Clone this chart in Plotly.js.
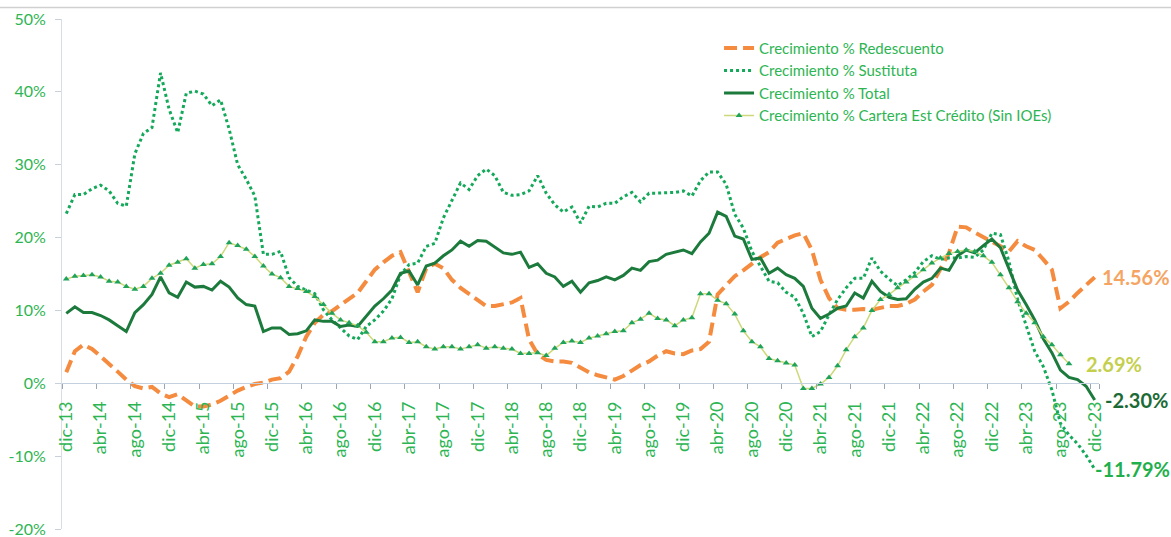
<!DOCTYPE html>
<html><head><meta charset="utf-8">
<script src="https://cdn.plot.ly/plotly-3.0.1.min.js"></script>
<style>html,body{margin:0;padding:0;background:#fff}#chart{width:1171px;height:537px}</style>
</head><body><div id="chart"></div>
<script>
const monthNames = ['ene','feb','mar','abr','may','jun','jul','ago','sep','oct','nov','dic'];
const categories = [];
for (let i = 0; i < 121; i++) {
  const k = 11 + i;
  categories.push(monthNames[k % 12] + '-' + (13 + Math.floor(k / 12)));
}
const tickLabels = ['dic-13','abr-14','ago-14','dic-14','abr-15','ago-15','dic-15','abr-16','ago-16','dic-16',
  'abr-17','ago-17','dic-17','abr-18','ago-18','dic-18','abr-19','ago-19','dic-19','abr-20','ago-20','dic-20',
  'abr-21','ago-21','dic-21','abr-22','ago-22','dic-22','abr-23','ago-23','dic-23'];
const yTicks = [-20,-10,0,10,20,30,40,50];

const redescuento = [
  1.5, 4.4, 5.3, 4.7, 3.7, 2.7, 1.6, 0.5, -0.4,
  -0.7, -0.5, -1.4, -1.9, -1.5, -2.3, -3.2, -3.2, -2.9, -2.4, -1.7, -1.0, -0.5, -0.1, 0.1,
  0.5, 0.7, 1.6, 3.7, 6.4, 8.3, 9.4, 9.9, 10.8, 11.6, 12.4, 13.9, 15.6, 16.6, 17.5, 18.0, 15.4, 12.5, 15.8, 16.4, 15.8, 14.2, 13.1, 12.3, 11.4,
  10.6, 10.6, 10.9, 11.1, 11.7, 6.0, 4.0, 3.2, 3.0, 3.0, 2.8, 2.1, 1.5, 1.1, 0.8, 0.5, 1.0, 1.8, 2.5, 3.0, 3.8, 4.4, 4.1, 4.0,
  4.5, 4.7, 5.7, 12.2, 13.4, 14.7, 15.5, 16.4, 17.3, 18.0, 19.3, 19.8, 20.3, 20.6, 18.3, 14.2, 11.7, 10.3, 10.1, 10.1, 10.2, 10.1, 10.4, 10.6,
  10.6, 10.9, 11.5, 12.6, 13.5, 15.6, 17.9, 21.5, 21.4, 20.7, 20.1, 19.5, 18.8, 18.1, 19.5, 18.8, 18.3, 17.0, 15.6, 10.3, 11.2, 12.4, 13.5, 14.56
];
const sustituta = [
  23.3, 25.9, 25.9, 26.7, 27.2, 26.4, 24.7, 24.3, 31.5, 34.3, 35.1, 42.6, 37.6, 34.4, 39.8, 40.1, 39.7, 38.1, 38.9, 34.9, 30.0, 28.0, 25.7, 17.7, 17.7,
  18.1, 14.5, 13.3, 12.8, 12.3, 10.1, 8.7, 7.6, 6.5, 6.0, 7.8, 8.7, 9.9, 11.6, 14.9, 16.3, 16.5, 18.8, 19.2, 22.7, 25.0, 27.5, 26.6, 28.5,
  29.4, 28.5, 26.2, 25.8, 25.9, 26.4, 28.5, 26.1, 24.5, 23.5, 24.2, 22.0, 24.3, 24.2, 24.7, 24.7, 25.6, 26.2, 24.9, 26.1, 26.1, 26.1, 26.2, 26.4,
  25.7, 27.8, 29.0, 29.0, 27.3, 23.2, 21.3, 18.1, 16.1, 14.0, 13.8, 12.5, 11.8, 9.6, 6.4, 7.1, 9.4, 11.5, 13.1, 14.4, 14.4, 17.2, 15.4, 14.3,
  13.4, 14.2, 15.2, 16.7, 17.5, 17.0, 17.2, 17.2, 17.4, 17.3, 18.3, 20.6, 20.4, 16.7, 11.5, 7.8, 4.4, 2.3, -0.9, -5.5, -7.1, -8.3, -9.9, -11.79
];
const total = [
  9.6, 10.5, 9.7, 9.7, 9.3, 8.7, 7.9, 7.1, 9.7, 10.8, 12.2, 14.6, 12.4, 11.8, 13.9, 13.2, 13.3, 12.8, 14.0, 13.2, 11.7, 10.8, 10.6, 7.1, 7.6,
  7.6, 6.7, 6.8, 7.2, 8.7, 8.5, 8.5, 7.8, 8.0, 7.8, 9.2, 10.6, 11.6, 12.8, 15.1, 15.4, 13.5, 16.1, 16.5, 17.5, 18.3, 19.5, 18.8, 19.6,
  19.5, 18.7, 17.9, 17.7, 18.0, 15.9, 16.4, 15.1, 14.6, 13.3, 14.0, 12.5, 13.8, 14.1, 14.6, 14.2, 14.8, 15.8, 15.5, 16.7, 16.9, 17.7, 18.0, 18.3,
  17.8, 19.4, 20.6, 23.5, 22.9, 20.2, 19.8, 17.0, 17.2, 15.1, 15.8, 14.9, 14.4, 13.3, 10.3, 8.9, 9.5, 10.3, 10.6, 12.4, 11.7, 14.0, 12.6, 11.8,
  11.5, 11.6, 12.9, 13.9, 14.4, 15.8, 15.5, 17.5, 18.3, 17.9, 18.9, 19.8, 18.6, 15.6, 12.8, 10.8, 8.7, 6.1, 4.2, 1.8, 0.8, 0.5, -0.4, -2.30
];
const cartera = [
  14.3, 14.7, 14.8, 14.9, 14.6, 14.0, 13.9, 13.3, 12.9, 13.3, 14.4, 15.1, 16.2, 16.6, 17.1, 15.8, 16.3, 16.4, 17.4, 19.3, 18.9, 18.4, 17.4, 16.1, 15.0,
  14.5, 13.3, 13.0, 12.6, 11.9, 10.8, 9.6, 8.7, 8.3, 7.9, 7.0, 5.7, 5.7, 6.2, 6.3, 5.6, 5.7, 5.0, 4.7, 5.0, 5.0, 4.7, 5.0, 5.3,
  4.8, 5.0, 4.8, 4.7, 4.1, 4.1, 4.2, 3.8, 4.8, 5.6, 5.8, 5.6, 6.2, 6.5, 6.8, 7.1, 7.2, 8.3, 8.8, 9.6, 8.9, 8.7, 7.9, 8.7,
  9.0, 12.3, 12.3, 11.4, 10.9, 9.5, 7.2, 5.7, 5.0, 3.4, 3.1, 2.8, 2.5, -0.7, -0.7, -0.1, 0.8, 2.4, 4.6, 6.4, 7.6, 10.0, 11.5,
  12.2, 13.1, 13.9, 14.7, 15.6, 16.5, 17.2, 17.8, 18.1, 18.3, 18.1, 17.5, 16.6, 14.9, 13.1, 11.2, 9.6, 8.3, 6.4, 5.3, 3.9, 2.69
];
const seriesNames = ['Crecimiento % Redescuento','Crecimiento % Sustituta','Crecimiento % Total','Crecimiento % Cartera Est Crédito (Sin IOEs)'];
const endLabels = ['14.56%','-11.79%','-2.30%','2.69%'];

const green = '#2db553';
const FONT = 'Lato, "Open Sans", sans-serif';

const traces = [
  {x: categories.slice(0, redescuento.length), y: redescuento, name: seriesNames[0], type: 'scatter', mode: 'lines',
   line: {color: '#f58b3e', width: 4, dash: '13px,6px'}},
  {x: categories.slice(0, sustituta.length), y: sustituta, name: seriesNames[1], type: 'scatter', mode: 'lines',
   line: {color: '#14a85a', width: 3, dash: 'dot'}},
  {x: categories.slice(0, total.length), y: total, name: seriesNames[2], type: 'scatter', mode: 'lines',
   line: {color: '#1c7a3c', width: 3}},
  {x: categories.slice(0, cartera.length), y: cartera, name: seriesNames[3], type: 'scatter', mode: 'lines+markers',
   line: {color: '#cdd878', width: 1.5}, marker: {symbol: 'triangle-up', size: 6, color: '#1fa35a'}}
];

const ann = [
  {x: categories[redescuento.length - 1], y: redescuento[redescuento.length - 1], text: endLabels[0], color: '#f6a462', xs: 5},
  {x: categories[sustituta.length - 1], y: sustituta[sustituta.length - 1], text: endLabels[1], color: '#1fb04c', xs: -2},
  {x: categories[total.length - 1], y: total[total.length - 1], text: endLabels[2], color: '#1c6b36', xs: 8},
  {x: categories[cartera.length - 1], y: cartera[cartera.length - 1], text: endLabels[3], color: '#c5cf4e', xs: 15}
].map(a => ({x: a.x, y: a.y, xref: 'x', yref: 'y', text: a.text, showarrow: false, xanchor: 'left', yanchor: 'middle',
  xshift: a.xs, font: {family: FONT, size: 20, color: a.color, weight: 'bold'}}));

const layout = {
  width: 1171, height: 537,
  margin: {l: 62, r: 72, t: 19, b: 8},
  paper_bgcolor: '#fff', plot_bgcolor: '#fff',
  font: {family: FONT, color: green},
  showlegend: true,
  legend: {x: 0.6336, y: 0.975, xanchor: 'left', yanchor: 'top', bgcolor: 'rgba(0,0,0,0)',
    font: {family: FONT, size: 15, color: green}, tracegroupgap: 0},
  xaxis: {type: 'category', range: [-0.5, 120.5], anchor: 'free', position: 20/70,
    tickmode: 'array', tickvals: tickLabels, ticktext: tickLabels, tickson: 'boundaries',
    tickangle: -90, ticks: 'outside', ticklen: 5, tickcolor: '#9aa5b5', ticklabelstandoff: 10,
    tickfont: {family: FONT, size: 18, color: green},
    showline: true, linecolor: '#c2d0e0', linewidth: 1, showgrid: false, zeroline: false, automargin: false},
  yaxis: {range: [-20, 50], tickmode: 'array', tickvals: yTicks, ticktext: yTicks.map(v => v + '%'),
    ticks: 'outside', ticklen: 6, tickcolor: '#c8d0dc', ticklabelstandoff: 6, ticklabeloverflow: 'allow',
    tickfont: {family: FONT, size: 16, color: green},
    showline: true, linecolor: '#d8dee8', linewidth: 1, showgrid: false, zeroline: false, automargin: false},
  annotations: ann,
  shapes: [{type: 'line', xref: 'paper', yref: 'paper', x0: -0.1, x1: 1.1, y0: 1 + 11.5/510, y1: 1 + 11.5/510,
    line: {color: '#d0d0d0', width: 1.5}}]
};

Plotly.newPlot('chart', traces, layout, {displayModeBar: false, staticPlot: true});
</script></body></html>
